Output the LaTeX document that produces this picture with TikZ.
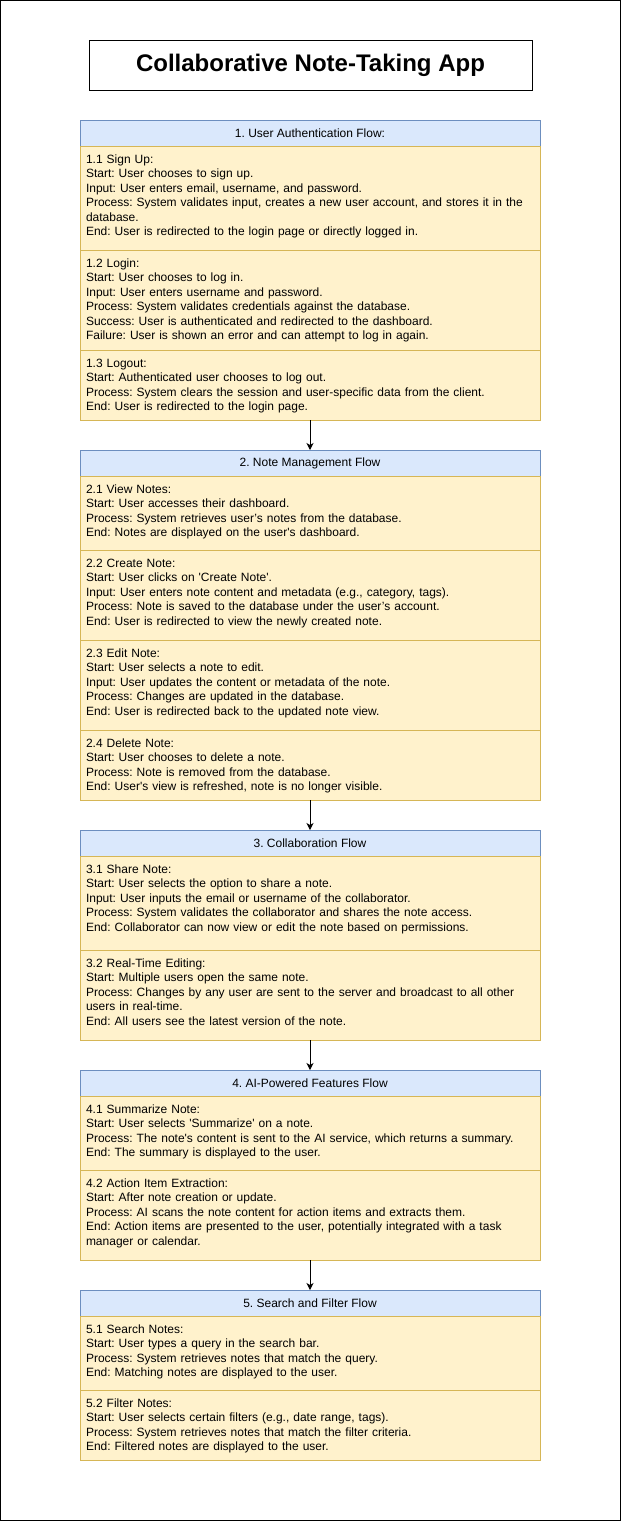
\documentclass[tikz,border=0pt]{standalone}
\usepackage{fontspec}
\setmainfont{Liberation Sans}[Ligatures=TeXOff]
\usetikzlibrary{positioning,arrows.meta}
\definecolor{headfill}{HTML}{DAE8FC}
\definecolor{headline}{HTML}{6C8EBF}
\definecolor{partfill}{HTML}{FFF2CC}
\definecolor{partline}{HTML}{D6B656}
\frenchspacing

\begin{document}
\begin{tikzpicture}[x=1pt, y=1pt,
  head/.style={draw=headline, fill=headfill, line width=1pt, minimum width=460pt, minimum height=26pt, inner sep=0pt, outer sep=0pt, font=\fontsize{12}{14.4}\selectfont},
  part/.style={draw=partline, fill=partfill, line width=1pt, text width=448pt, inner xsep=6pt, inner ysep=0pt, outer sep=0pt, align=left, text height=17.5pt, text depth=#1, font=\fontsize{12}{14.4}\selectfont},
  flow/.style={-{Stealth[length=7pt, width=7pt, inset=2pt]}, line width=1pt}]
\useasboundingbox (0,0) rectangle (621,-1521);
\draw[line width=1pt] (0.5,-0.5) rectangle (620.5,-1520.5);

\node[draw, line width=1pt, minimum width=443pt, minimum height=50pt, font=\bfseries\fontsize{24}{28}\selectfont] (title) at (310.5,-65) {Collaborative Note-Taking App};

\node[head] (h1) at (310,-133) {1. User Authentication Flow:};
\node[part=86.5pt, below=0pt of h1] (s11) {1.1 Sign Up:\\Start: User chooses to sign up.\\Input: User enters email, username, and password.\\Process: System validates input, creates a new user account, and stores it in the\\database.\\End: User is redirected to the login page or directly logged in.};
\node[part=82.5pt, below=0pt of s11] (s12) {1.2 Login:\\Start: User chooses to log in.\\Input: User enters username and password.\\Process: System validates credentials against the database.\\Success: User is authenticated and redirected to the dashboard.\\Failure: User is shown an error and can attempt to log in again.};
\node[part=52.5pt, below=0pt of s12] (s13) {1.3 Logout:\\Start: Authenticated user chooses to log out.\\Process: System clears the session and user-specific data from the client.\\End: User is redirected to the login page.};

\node[head, below=30pt of s13] (h2) {2. Note Management Flow};
\node[part=56.5pt, below=0pt of h2] (s21) {2.1 View Notes:\\Start: User accesses their dashboard.\\Process: System retrieves user’s notes from the database.\\End: Notes are displayed on the user's dashboard.};
\node[part=72.5pt, below=0pt of s21] (s22) {2.2 Create Note:\\Start: User clicks on 'Create Note'.\\Input: User enters note content and metadata (e.g., category, tags).\\Process: Note is saved to the database under the user’s account.\\End: User is redirected to view the newly created note.};
\node[part=72.5pt, below=0pt of s22] (s23) {2.3 Edit Note:\\Start: User selects a note to edit.\\Input: User updates the content or metadata of the note.\\Process: Changes are updated in the database.\\End: User is redirected back to the updated note view.};
\node[part=52.5pt, below=0pt of s23] (s24) {2.4 Delete Note:\\Start: User chooses to delete a note.\\Process: Note is removed from the database.\\End: User's view is refreshed, note is no longer visible.};

\node[head, below=30pt of s24] (h3) {3. Collaboration Flow};
\node[part=76.5pt, below=0pt of h3] (s31) {3.1 Share Note:\\Start: User selects the option to share a note.\\Input: User inputs the email or username of the collaborator.\\Process: System validates the collaborator and shares the note access.\\End: Collaborator can now view or edit the note based on permissions.};
\node[part=72.5pt, below=0pt of s31] (s32) {3.2 Real-Time Editing:\\Start: Multiple users open the same note.\\Process: Changes by any user are sent to the server and broadcast to all other\\users in real-time.\\End: All users see the latest version of the note.};

\node[head, below=30pt of s32] (h4) {4. AI-Powered Features Flow};
\node[part=56.5pt, below=0pt of h4] (s41) {4.1 Summarize Note:\\Start: User selects 'Summarize' on a note.\\Process: The note's content is sent to the AI service, which returns a summary.\\End: The summary is displayed to the user.};
\node[part=72.5pt, below=0pt of s41] (s42) {4.2 Action Item Extraction:\\Start: After note creation or update.\\Process: AI scans the note content for action items and extracts them.\\End: Action items are presented to the user, potentially integrated with a task\\manager or calendar.};

\node[head, below=30pt of s42] (h5) {5. Search and Filter Flow};
\node[part=56.5pt, below=0pt of h5] (s51) {5.1 Search Notes:\\Start: User types a query in the search bar.\\Process: System retrieves notes that match the query.\\End: Matching notes are displayed to the user.};
\node[part=52.5pt, below=0pt of s51] (s52) {5.2 Filter Notes:\\Start: User selects certain filters (e.g., date range, tags).\\Process: System retrieves notes that match the filter criteria.\\End: Filtered notes are displayed to the user.};

\draw[flow] (s13) -- (h2);
\draw[flow] (s24) -- (h3);
\draw[flow] (s32) -- (h4);
\draw[flow] (s42) -- (h5);
\end{tikzpicture}
\end{document}
